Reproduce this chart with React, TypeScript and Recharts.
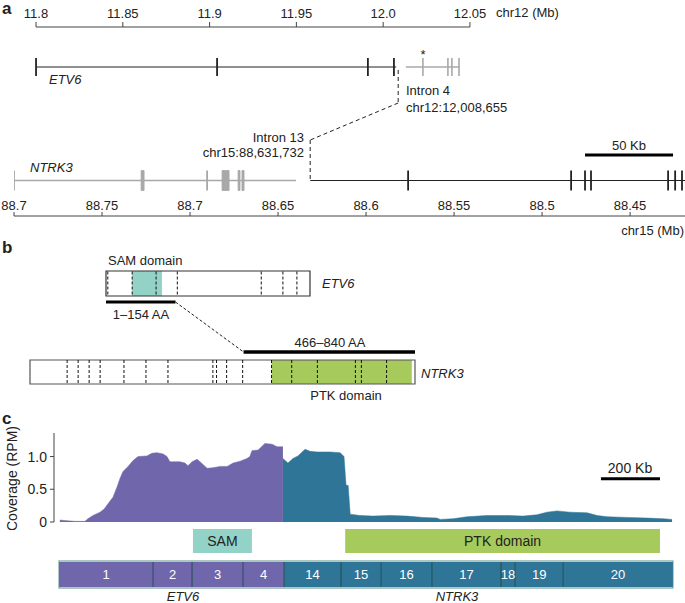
import React from 'react';
import { ComposedChart, XAxis, YAxis, ReferenceLine, ReferenceArea, Area, Scatter, Label } from 'recharts';

const FONT = '"Liberation Sans", Arial, Helvetica, sans-serif';
const INK = '#222';
const GREY = '#a8a8a8';
const PURPLE = '#7066ab';
const TEAL = '#2e7597';
const SAM_FILL = '#93d2c6';
const PTK_FILL = '#a6ca5c';

// ---- panel a: genomic loci (Mb) ----
const chr12Ticks = [11.8, 11.85, 11.9, 11.95, 12.0, 12.05];
const chr12TickLabels = ['11.8', '11.85', '11.9', '11.95', '12.0', '12.05'];
const etv6Span = [11.8, 12.0075];
const etv6Exons = [11.8, 11.9043, 11.9912, 12.0062];
const etv6TailSpan = [12.0131, 12.0442];
const etv6TailExons = [12.0229, 12.0373, 12.0396, 12.0437];
const etv6Break = 12.008655;

// first label really is printed "88.7" in the figure
const chr15Ticks = [88.8, 88.75, 88.7, 88.65, 88.6, 88.55, 88.5, 88.45];
const chr15TickLabels = ['88.7', '88.75', '88.7', '88.65', '88.6', '88.55', '88.5', '88.45'];
const ntrk3HeadSpan = [88.8, 88.6398];
const ntrk3HeadExons = [88.8, 88.6903];
const ntrk3HeadBlocks = [[88.7278, 88.7261], [88.6818, 88.6778], [88.6727, 88.6716], [88.6705, 88.6693]];
const ntrk3Span = [88.6317, 88.4188];
const ntrk3Exons = [88.5761, 88.4835, 88.4756, 88.4722, 88.4284, 88.4244, 88.4205];
const ntrk3Break = 88.631732;
const scale50kb = [88.4756, 88.4256];

// ---- panel b: proteins (AA) ----
const etv6Length = 452;
const etv6Sam = [58, 124];
const etv6Junctions = [4, 58, 111, 158, 344, 392, 423];
const etv6Kept = [1, 154];
const ntrk3Length = 840;
const ntrk3Ptk = [527, 833];
const ntrk3Junctions = [81, 105, 129, 153, 205, 253, 301, 399, 407, 429, 464, 527, 571, 627, 710, 723, 778];
const ntrk3Kept = [466, 840];

// ---- panel c: coverage along fused transcript (kb) ----
const etv6CovPos = [3, 27, 54, 88, 98, 115, 139, 153, 163, 173, 183, 197, 207, 217, 234, 251, 268, 298, 315, 332, 353, 366, 376, 410, 427, 437, 451, 468, 478, 502, 522, 546, 570, 590, 614, 637, 647, 654, 675, 698, 722, 739, 759];
const etv6Cov = [0.03, 0.02, 0.01, 0.01, 0.05, 0.1, 0.15, 0.2, 0.26, 0.32, 0.38, 0.54, 0.67, 0.77, 0.85, 0.94, 1.0, 1.01, 1.05, 1.06, 1.04, 1.0, 0.92, 0.92, 0.9, 0.86, 0.92, 0.96, 0.92, 0.82, 0.83, 0.85, 0.85, 0.9, 0.93, 0.97, 1.0, 1.09, 1.1, 1.2, 1.19, 1.15, 1.15];
const ntrk3CovPos = [759, 776, 793, 810, 834, 851, 875, 919, 953, 966, 973, 980, 987, 1020, 1064, 1122, 1180, 1234, 1281, 1292, 1336, 1383, 1451, 1519, 1573, 1620, 1654, 1688, 1732, 1790, 1824, 1858, 1926, 1993, 2048, 2078];
const ntrk3Cov = [0.97, 0.9, 0.97, 1.01, 1.11, 1.08, 1.07, 1.07, 1.06, 1.0, 0.56, 0.56, 0.12, 0.1, 0.09, 0.1, 0.09, 0.07, 0.06, 0.04, 0.05, 0.08, 0.1, 0.1, 0.09, 0.11, 0.15, 0.17, 0.15, 0.14, 0.1, 0.08, 0.07, 0.06, 0.05, 0.04];
const covTicks = [0, 0.5, 1.0];
const covTickLabels = ['0', '0.5', '1.0'];
const scale200kb = [1837, 2037];
const exonNames = ['1', '2', '3', '4', '14', '15', '16', '17', '18', '19', '20'];
const exonEdges = [0, 319, 451, 624, 763, 956, 1092, 1264, 1498, 1546, 1709, 2081];
const exonGene = ['ETV6', 'ETV6', 'ETV6', 'ETV6', 'NTRK3', 'NTRK3', 'NTRK3', 'NTRK3', 'NTRK3', 'NTRK3', 'NTRK3'];
const samSpan = [454, 654];
const ptkSpan = [970, 2037];

// axis domains (both x axes of a panel share one pixel range)
const C12_DOMAIN = [11.7873, 12.1739];
const C15_DOMAIN = [88.4188, 88.8];
const NT_DOMAIN = [0, 840];
const ET_DOMAIN = [-168.4, 684.7];
const KB_DOMAIN = [-17, 2088];

const c15ToC12 = (v: number) =>
  C12_DOMAIN[0] + ((C15_DOMAIN[1] - v) / (C15_DOMAIN[1] - C15_DOMAIN[0])) * (C12_DOMAIN[1] - C12_DOMAIN[0]);
const etToNt = (v: number) =>
  NT_DOMAIN[0] + ((v - ET_DOMAIN[0]) / (ET_DOMAIN[1] - ET_DOMAIN[0])) * (NT_DOMAIN[1] - NT_DOMAIN[0]);

function T({ x, y, children, anchor = 'start', style }: any) {
  const tx = anchor === 'middle' ? '-50%' : anchor === 'end' ? '-100%' : '0';
  return (
    <div style={{ position: 'absolute', left: x, top: y, transform: `translate(${tx}, -50%)`, whiteSpace: 'nowrap', fontSize: 13, lineHeight: 1, ...style }}>
      {children}
    </div>
  );
}

const seg = (key: string, xId: string, x1: number, y1: number, x2: number, y2: number, stroke: string, width: number, dash?: string) => (
  <ReferenceLine key={key} xAxisId={xId} yAxisId="r" segment={[{ x: x1, y: y1 }, { x: x2, y: y2 }]}
    stroke={stroke} strokeWidth={width} strokeDasharray={dash} ifOverflow="visible" />
);

// vertical tick mark centred on a scatter point
const vtick = (half: number, stroke: string, width: number, dash?: string) => (p: any) => (
  <line x1={p.cx} x2={p.cx} y1={p.cy - half} y2={p.cy + half} stroke={stroke} strokeWidth={width} strokeDasharray={dash} />
);

const pts = (xs: number[], y: number) => xs.map((x) => ({ x, y }));

function PanelA() {
  const rowEtv6 = 40, rowNtrk3 = 153.5, bend1 = 76, bend2 = 113, rowBar = 128;
  return (
    <ComposedChart width={685} height={240} margin={{ top: 0, right: 0, bottom: 24, left: 14 }}>
      <XAxis xAxisId="c12" dataKey="x" type="number" orientation="top" domain={C12_DOMAIN} allowDataOverflow
        ticks={chr12Ticks} interval={0} tickFormatter={(v) => chr12TickLabels[chr12Ticks.indexOf(v)]}
        height={27} axisLine={false} tickSize={5} tickMargin={4}
        tick={{ fill: INK, fontSize: 13, fontFamily: FONT }} tickLine={{ stroke: '#444' }} />
      <XAxis xAxisId="c15" dataKey="x" type="number" orientation="bottom" mirror reversed domain={C15_DOMAIN} allowDataOverflow
        ticks={chr15Ticks} interval={0} tickFormatter={(v) => chr15TickLabels[chr15Ticks.indexOf(v)]}
        height={20} tickSize={4} tickMargin={2} axisLine={{ stroke: '#444' }}
        tick={{ fill: INK, fontSize: 13, fontFamily: FONT }} tickLine={{ stroke: '#444' }} />
      <YAxis yAxisId="r" dataKey="y" hide type="number" domain={[0, 189]} reversed allowDataOverflow />

      {seg('c12axis', 'c12', chr12Ticks[0], 0, chr12Ticks[chr12Ticks.length - 1], 0, '#444', 1)}

      {/* ETV6 */}
      {seg('etv6', 'c12', etv6Span[0], rowEtv6, etv6Span[1], rowEtv6, INK, 1.2)}
      {seg('etv6t', 'c12', etv6TailSpan[0], rowEtv6, etv6TailSpan[1], rowEtv6, GREY, 1.5)}
      <Scatter xAxisId="c12" yAxisId="r" data={pts(etv6Exons, rowEtv6)} shape={vtick(9, INK, 1.8)} isAnimationActive={false} />
      <Scatter xAxisId="c12" yAxisId="r" data={pts(etv6TailExons, rowEtv6)} shape={vtick(9, GREY, 1.6)} isAnimationActive={false} />

      {/* breakpoint connector */}
      {seg('bk1', 'c12', etv6Break, rowEtv6 + 3, etv6Break, bend1, INK, 1, '4 3')}
      {seg('bk2', 'c12', etv6Break, bend1, c15ToC12(ntrk3Break), bend2, INK, 1, '4 3')}
      {seg('bk3', 'c15', ntrk3Break, bend2, ntrk3Break, rowNtrk3, INK, 1, '4 3')}

      {/* NTRK3 */}
      {seg('nh', 'c15', ntrk3HeadSpan[0], rowNtrk3, ntrk3HeadSpan[1], rowNtrk3, GREY, 1.5)}
      {ntrk3HeadBlocks.map((b, i) => (
        <ReferenceArea key={'nb' + i} xAxisId="c15" yAxisId="r" x1={b[0]} x2={b[1]} y1={rowNtrk3 - 10} y2={rowNtrk3 + 10}
          fill={GREY} fillOpacity={1} stroke={GREY} strokeWidth={0.8} ifOverflow="visible" />
      ))}
      {seg('nt', 'c15', ntrk3Span[0], rowNtrk3, ntrk3Span[1], rowNtrk3, INK, 1.2)}
      <Scatter xAxisId="c15" yAxisId="r" data={pts(ntrk3HeadExons, rowNtrk3)} shape={vtick(10, GREY, 1.8)} isAnimationActive={false} />
      <Scatter xAxisId="c15" yAxisId="r" data={pts(ntrk3Exons, rowNtrk3)} shape={vtick(10, INK, 1.8)} isAnimationActive={false} />

      {seg('bar50', 'c15', scale50kb[0], rowBar, scale50kb[1], rowBar, '#000', 3)}
    </ComposedChart>
  );
}

function PanelB() {
  const etTop = 31, etBot = 56, etBar = 62, ntBar = 112, ntTop = 120, ntBot = 144;
  const etMid = (etTop + etBot) / 2, ntMid = (ntTop + ntBot) / 2;
  return (
    <ComposedChart width={685} height={160} margin={{ top: 0, right: 270, bottom: 0, left: 30 }}>
      <XAxis xAxisId="nt" dataKey="x" type="number" hide domain={NT_DOMAIN} allowDataOverflow />
      <XAxis xAxisId="et" dataKey="x" type="number" hide domain={ET_DOMAIN} allowDataOverflow />
      <YAxis yAxisId="r" dataKey="y" hide type="number" domain={[0, 160]} reversed allowDataOverflow />

      <ReferenceArea xAxisId="et" yAxisId="r" x1={0} x2={etv6Length} y1={etTop} y2={etBot} fill="#fff" fillOpacity={1} ifOverflow="visible" />
      <ReferenceArea xAxisId="et" yAxisId="r" x1={etv6Sam[0]} x2={etv6Sam[1]} y1={etTop} y2={etBot} fill={SAM_FILL} fillOpacity={1} ifOverflow="visible" />
      <ReferenceArea xAxisId="et" yAxisId="r" x1={0} x2={etv6Length} y1={etTop} y2={etBot} fill="none" stroke="#333" strokeWidth={1.2} ifOverflow="visible" />
      {seg('ekept', 'et', etv6Kept[0] - 1, etBar, etv6Kept[1], etBar, '#000', 3)}

      {seg('link', 'nt', etToNt(etv6Kept[1]), etBar, ntrk3Kept[0], ntBar, INK, 1, '3 2')}

      <ReferenceArea xAxisId="nt" yAxisId="r" x1={0} x2={ntrk3Length} y1={ntTop} y2={ntBot} fill="#fff" fillOpacity={1} ifOverflow="visible" />
      <ReferenceArea xAxisId="nt" yAxisId="r" x1={ntrk3Ptk[0]} x2={ntrk3Ptk[1]} y1={ntTop} y2={ntBot} fill={PTK_FILL} fillOpacity={1} ifOverflow="visible" />
      <ReferenceArea xAxisId="nt" yAxisId="r" x1={0} x2={ntrk3Length} y1={ntTop} y2={ntBot} fill="none" stroke="#555" strokeWidth={1.2} ifOverflow="visible" />
      {seg('nkept', 'nt', ntrk3Kept[0], ntBar, ntrk3Kept[1], ntBar, '#000', 3.5)}

      <Scatter xAxisId="et" yAxisId="r" data={pts(etv6Junctions, etMid)} shape={vtick(12, '#111', 1, '3 2')} isAnimationActive={false} />
      <Scatter xAxisId="nt" yAxisId="r" data={pts(ntrk3Junctions, ntMid)} shape={vtick(12, '#111', 1, '3 2')} isAnimationActive={false} />
    </ComposedChart>
  );
}

const etv6Data = etv6CovPos.map((kb, i) => ({ kb, cov: etv6Cov[i] }));
const ntrk3Data = ntrk3CovPos.map((kb, i) => ({ kb, cov: ntrk3Cov[i] }));

function CoverageLabel(props: any) {
  const vb = props.viewBox || {};
  const cy = vb.y + vb.height / 2 + 1;
  return (
    <text x={12} y={cy} transform={`rotate(-90 12 ${cy})`} textAnchor="middle" dominantBaseline="central"
      fill={INK} fontSize={14} fontFamily={FONT}>Coverage (RPM)</text>
  );
}

function PanelCTop() {
  return (
    <ComposedChart width={685} height={110} margin={{ top: 13, right: 10, bottom: 8, left: 0 }}>
      <XAxis type="number" dataKey="kb" hide domain={KB_DOMAIN} allowDataOverflow />
      <YAxis type="number" domain={[0, 1.36]} allowDataOverflow ticks={covTicks} interval={0} width={54}
        tickFormatter={(v) => covTickLabels[covTicks.indexOf(v)]} tickSize={4} tickMargin={3}
        axisLine={{ stroke: '#444' }} tickLine={{ stroke: '#444' }}
        tick={{ fill: INK, fontSize: 14, fontFamily: FONT }}>
        <Label content={<CoverageLabel />} />
      </YAxis>
      <Area data={etv6Data} dataKey="cov" type="linear" fill={PURPLE} fillOpacity={1} stroke={PURPLE} strokeWidth={0.5} isAnimationActive={false} />
      <Area data={ntrk3Data} dataKey="cov" type="linear" fill={TEAL} fillOpacity={1} stroke={TEAL} strokeWidth={0.5} isAnimationActive={false} />
      <ReferenceLine segment={[{ x: scale200kb[0], y: 0.66 }, { x: scale200kb[1], y: 0.66 }]} stroke="#000" strokeWidth={3} ifOverflow="visible" />
    </ComposedChart>
  );
}

function PanelCBottom() {
  const boxTop = 9, boxBot = 33, exTop = 42, exBot = 67;
  return (
    <ComposedChart width={685} height={83} margin={{ top: 0, right: 10, bottom: 0, left: 54 }}>
      <XAxis type="number" dataKey="x" hide domain={KB_DOMAIN} allowDataOverflow />
      <YAxis type="number" dataKey="y" hide domain={[0, 83]} reversed allowDataOverflow />
      <ReferenceArea x1={samSpan[0]} x2={samSpan[1]} y1={boxTop} y2={boxBot} fill={SAM_FILL} fillOpacity={1} ifOverflow="visible"
        label={{ value: 'SAM', position: 'center', fill: INK, fontSize: 14, fontFamily: FONT }} />
      <ReferenceArea x1={ptkSpan[0]} x2={ptkSpan[1]} y1={boxTop} y2={boxBot} fill={PTK_FILL} fillOpacity={1} ifOverflow="visible"
        label={{ value: 'PTK domain', position: 'center', fill: INK, fontSize: 14, fontFamily: FONT }} />
      <ReferenceArea x1={exonEdges[0]} x2={exonEdges[exonEdges.length - 1]} y1={exTop - 1} y2={exBot + 1} fill="none" stroke="#8fb5ae" strokeWidth={1.5} ifOverflow="visible" />
      {exonNames.map((name, i) => (
        <ReferenceArea key={name} x1={exonEdges[i]} x2={exonEdges[i + 1]} y1={exTop} y2={exBot}
          fill={exonGene[i] === 'ETV6' ? PURPLE : TEAL} fillOpacity={1} ifOverflow="visible"
          label={{ value: name, position: 'center', fill: '#fff', fontSize: 13, fontFamily: FONT }} />
      ))}
      <Scatter data={pts(exonEdges.slice(1, -1), (exTop + exBot) / 2)} shape={vtick(12.5, '#234a4c', 1)} isAnimationActive={false} />
    </ComposedChart>
  );
}

export default function App() {
  const letter = { fontWeight: 'bold', fontSize: 17 };
  const it = { fontStyle: 'italic' };
  return (
    <div style={{ position: 'absolute', left: 0, top: 0, width: 685, height: 603, background: '#fff', fontFamily: FONT, color: INK, overflow: 'hidden' }}>
      <div style={{ position: 'absolute', left: 0, top: 0 }}><PanelA /></div>
      <div style={{ position: 'absolute', left: 0, top: 240 }}><PanelB /></div>
      <div style={{ position: 'absolute', left: 0, top: 420 }}><PanelCTop /></div>
      <div style={{ position: 'absolute', left: 0, top: 520 }}><PanelCBottom /></div>

      <T x={2} y={8} style={letter}>a</T>
      <T x={496} y={12}>chr12 (Mb)</T>
      <T x={423} y={54} anchor="middle">*</T>
      <T x={49} y={79} style={it}>ETV6</T>
      <T x={406} y={90}>Intron 4</T>
      <T x={406} y={107}>chr12:12,008,655</T>
      <T x={304} y={137} anchor="end">Intron 13</T>
      <T x={304} y={152} anchor="end">chr15:88,631,732</T>
      <T x={30} y={167} style={it}>NTRK3</T>
      <T x={629} y={145} anchor="middle">50 Kb</T>
      <T x={684} y={230} anchor="end">chr15 (Mb)</T>

      <T x={2} y={247} style={letter}>b</T>
      <T x={108} y={260}>SAM domain</T>
      <T x={322} y={283} style={it}>ETV6</T>
      <T x={141} y={314} anchor="middle">1–154 AA</T>
      <T x={330} y={342} anchor="middle">466–840 AA</T>
      <T x={421} y={373} style={it}>NTRK3</T>
      <T x={346} y={395} anchor="middle">PTK domain</T>

      <T x={2} y={418} style={letter}>c</T>
      <T x={630} y={468} anchor="middle" style={{ fontSize: 14 }}>200 Kb</T>
      <T x={183} y={596} anchor="middle" style={{ ...it, fontSize: 13 }}>ETV6</T>
      <T x={457} y={596} anchor="middle" style={{ ...it, fontSize: 13 }}>NTRK3</T>
    </div>
  );
}
